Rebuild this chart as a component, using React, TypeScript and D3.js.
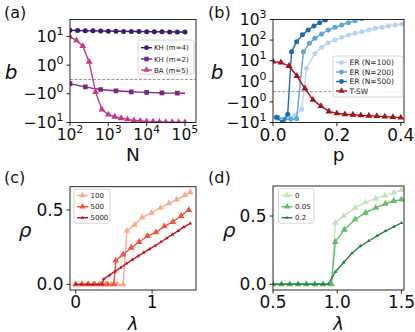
import React from "react";
import * as d3 from "d3";

const FONT = "DejaVu Sans, Verdana, sans-serif";

// ---------------- Panel (a) data ----------------
const aN = [100, 158, 251, 398, 631, 1000, 1585, 2512, 3981, 6310, 10000, 15849, 25119, 39811, 63096, 100000];
const aKH4 = [16.3, 16.1, 15.9, 15.7, 15.5, 15.3, 15.2, 15.0, 14.9, 14.8, 14.7, 14.6, 14.5, 14.4, 14.3, 14.2];
const aKH2 = [-0.29, -0.41, -0.52, -0.62, -0.7, -0.75, -0.79, -0.82, -0.86, -0.88, -0.9, -0.92, -0.94, -0.95, -0.95, -0.96];
const aBAN = [100, 147, 215, 316, 464, 681, 1000, 1468, 2154, 3162, 4642, 6813, 10000, 14678, 21544, 31623, 46416, 68129, 100000];
const aBA = [9.8, 7.3, 4.6, 1.3, -0.87, -3.5, -5.3, -6.3, -7.1, -7.8, -8.5, -8.9, -9.2, -9.4, -9.6, -9.7, -9.8, -9.85, -9.9];
const aXTickExp = [2, 3, 4, 5];
const aYTicks = [10, 1, -1, -10];

// ---------------- Panel (b) data ----------------
const bP100 = [0.012, 0.032, 0.051, 0.069, 0.09, 0.105, 0.131, 0.152, 0.173, 0.194, 0.215, 0.236, 0.257, 0.278, 0.299, 0.32, 0.341, 0.362, 0.383, 0.404];
const bER100 = [-6.5, -7, -5.5, -4.5, -2.3, 4.3, 22, 45, 75, 101, 137, 177, 214, 256, 310, 374, 418, 483, 540, 600];
const bP200 = [0.015, 0.036, 0.056, 0.074, 0.095, 0.114, 0.131, 0.152, 0.173, 0.194, 0.215, 0.236, 0.257, 0.278, 0.299];
const bER200 = [-5.5, -7, -7, -6.5, 27, 70, 122, 198, 310, 418, 540, 700, 875, 1100, 1400];
const bP500 = [0.011, 0.03, 0.046, 0.058, 0.074, 0.092, 0.11, 0.128, 0.146, 0.164, 0.182];
const bER500 = [-5.5, -10, -4, 27, 84, 180, 310, 480, 700, 950, 1300];
const bPTSW = [0, 0.025, 0.05, 0.075, 0.1, 0.125, 0.15, 0.175, 0.2, 0.225, 0.25, 0.275, 0.3, 0.325, 0.35, 0.375, 0.4];
const bTSW = [9, 8.2, 5.5, 1.8, 0.3, -0.8, -1.6, -2.9, -3.6, -4.0, -4.2, -4.5, -4.7, -4.9, -5.2, -5.5, -5.8];
const bXTicks = [0, 0.2, 0.4];
const bYTicks = [1000, 100, 10, 1, -1, -10];

// ---------------- Panel (c) data ----------------
const cL100 = [0, 0.078, 0.155, 0.233, 0.31, 0.388, 0.465, 0.543, 0.62, 0.67, 0.77, 0.87, 0.99, 1.11, 1.22, 1.32, 1.43, 1.5];
const cR100 = [0, 0, 0, 0, 0, 0, 0, 0, 0, 0.36, 0.4, 0.45, 0.48, 0.515, 0.545, 0.57, 0.6, 0.62];
const cL500 = [0, 0.083, 0.167, 0.25, 0.333, 0.417, 0.5, 0.525, 0.62, 0.726, 0.83, 0.94, 1.05, 1.16, 1.27, 1.38, 1.48];
const cR500 = [0, 0, 0, 0, 0, 0, 0, 0.16, 0.2, 0.246, 0.285, 0.325, 0.35, 0.39, 0.42, 0.46, 0.5];
const cL5000 = [0, 0.075, 0.15, 0.225, 0.3, 0.35, 0.365, 0.44, 0.515, 0.59, 0.665, 0.74, 0.815, 0.89, 0.965, 1.04, 1.115, 1.19, 1.265, 1.34, 1.415, 1.5];
const cR5000 = [0, 0, 0, 0, 0, 0, 0.035, 0.06, 0.087, 0.113, 0.14, 0.165, 0.19, 0.213, 0.237, 0.26, 0.285, 0.31, 0.335, 0.36, 0.385, 0.41];
const cXTicks = [0, 1];
const cYTicks = [0, 0.5];

// ---------------- Panel (d) data ----------------
const dL0 = [0.5, 0.565, 0.63, 0.695, 0.76, 0.825, 0.89, 0.955, 0.985, 1.05, 1.14, 1.22, 1.3, 1.37, 1.44, 1.5];
const dR0 = [0, 0, 0, 0, 0, 0, 0, 0, 0.45, 0.5, 0.56, 0.6, 0.627, 0.65, 0.67, 0.69];
const dL005 = [0.5, 0.565, 0.63, 0.695, 0.76, 0.825, 0.89, 0.955, 0.985, 1.055, 1.14, 1.22, 1.3, 1.375, 1.44, 1.5];
const dR005 = [0, 0, 0, 0, 0, 0, 0, 0, 0.31, 0.4, 0.476, 0.524, 0.56, 0.59, 0.61, 0.62];
const dL02 = [0.5, 0.565, 0.63, 0.695, 0.76, 0.825, 0.89, 0.93, 0.985, 1.05, 1.115, 1.18, 1.245, 1.31, 1.375, 1.44, 1.5];
const dR02 = [0, 0, 0, 0, 0, 0, 0, 0, 0.09, 0.16, 0.227, 0.28, 0.317, 0.354, 0.39, 0.42, 0.45];
const dXTicks = [0.5, 1.0, 1.5];
const dYTicks = [0, 0.5];

type Ser = {
  xs: number[];
  ys: number[];
  color: string;
  marker: "circle" | "square" | "triangle";
  size: number;
  every?: number;
  label: string;
};

const LINC = 0.5; // width of the linear part of the symlog axis, in decades
const symT = (v: number) =>
  Math.abs(v) <= 1 ? v * LINC : Math.sign(v) * (LINC + Math.log10(Math.abs(v)));

function symPath(marker: string, size: number) {
  const t = marker === "circle" ? d3.symbolCircle : marker === "square" ? d3.symbolSquare : d3.symbolTriangle;
  return d3.symbol().type(t).size(size)() as string;
}

function SeriesG({ s, fx, fy, clip }: { s: Ser; fx: (v: number) => number; fy: (v: number) => number; clip: string }) {
  const line = d3
    .line<number>()
    .x((_, i) => fx(s.xs[i]))
    .y((d) => fy(d));
  const sym = symPath(s.marker, s.size);
  const ev = s.every ?? 1;
  return (
    <g clipPath={`url(#${clip})`}>
      <path d={line(s.ys) as string} fill="none" stroke={s.color} strokeWidth={1.4} strokeLinejoin="round" />
      {s.ys.map((v, i) =>
        i % ev === 0 ? (
          <path key={i} d={sym} transform={`translate(${fx(s.xs[i])},${fy(v)})`} fill={s.color} />
        ) : null
      )}
    </g>
  );
}

function Legend({
  box,
  items,
  rows,
  sx0,
  sx1,
  tx,
  fs,
}: {
  box: [number, number, number, number];
  items: Ser[];
  rows: number[];
  sx0: number;
  sx1: number;
  tx: number;
  fs: number;
}) {
  return (
    <g>
      <rect x={box[0]} y={box[1]} width={box[2]} height={box[3]} rx={2} fill="white" fillOpacity={0.85} stroke="#cccccc" strokeWidth={0.8} />
      {items.map((s, i) => (
        <g key={i}>
          <line x1={sx0} x2={sx1} y1={rows[i]} y2={rows[i]} stroke={s.color} strokeWidth={1.4} />
          <path d={symPath(s.marker, s.size * 0.9)} transform={`translate(${(sx0 + sx1) / 2},${rows[i]})`} fill={s.color} />
          <text x={tx} y={rows[i] + fs * 0.36} fontSize={fs} fontFamily={FONT} fill="#222">
            {s.label}
          </text>
        </g>
      ))}
    </g>
  );
}

function PowLabel({ x, y, anchor, neg, exp }: { x: number; y: number; anchor: "end" | "middle"; neg: boolean; exp: number }) {
  return (
    <text x={x} y={y} textAnchor={anchor} fontSize={15.5} fontFamily={FONT} fill="#111">
      {neg ? "\u2212" : ""}10
      <tspan dy={-7} fontSize={11}>
        {exp}
      </tspan>
    </text>
  );
}

const TICK = 3.5;

function Frame({ l, r, t, b, clip }: { l: number; r: number; t: number; b: number; clip: string }) {
  return (
    <clipPath id={clip}>
      <rect x={l} y={t} width={r - l} height={b - t} />
    </clipPath>
  );
}

export default function App() {
  // ---- Panel a ----
  const A = { l: 70, r: 196, t: 19.5, b: 122.5 };
  const ax = d3.scaleLog().domain([100, 1.94e5]).range([A.l, A.r]);
  const ayLin = d3.scaleLinear().domain([symT(-10), symT(39)]).range([A.b, A.t]);
  const ay = (v: number) => ayLin(symT(v));
  const aSeries: Ser[] = [
    { xs: aN, ys: aKH4, color: "#3b1c6e", marker: "circle", size: 20, label: "KH (m=4)" },
    { xs: aN, ys: aKH2, color: "#7d2683", marker: "square", size: 22, every: 2, label: "KH (m=2)" },
    { xs: aBAN, ys: aBA, color: "#c53b8a", marker: "triangle", size: 20, label: "BA (m=5)" },
  ];

  // ---- Panel b ----
  const B = { l: 273, r: 404, t: 19.5, b: 122.5 };
  const bx = d3.scaleLinear().domain([0, 0.41]).range([B.l, B.r]);
  const byLin = d3.scaleLinear().domain([symT(-10), symT(1000)]).range([B.b, B.t]);
  const by = (v: number) => byLin(symT(v));
  const bSeries: Ser[] = [
    { xs: bP100, ys: bER100, color: "#b8d5ec", marker: "circle", size: 20, label: "ER (N=100)" },
    { xs: bP200, ys: bER200, color: "#5fa6d4", marker: "circle", size: 20, label: "ER (N=200)" },
    { xs: bP500, ys: bER500, color: "#1f6cb0", marker: "circle", size: 20, label: "ER (N=500)" },
    { xs: bPTSW, ys: bTSW, color: "#a51518", marker: "triangle", size: 20, label: "T-SW" },
  ];

  // ---- Panel c ----
  const Cc = { l: 70, r: 196, t: 186.7, b: 290 };
  const cx = d3.scaleLinear().domain([-0.075, 1.575]).range([Cc.l, Cc.r]);
  const cy = d3.scaleLinear().domain([-0.038, 0.657]).range([Cc.b, Cc.t]);
  const cSeries: Ser[] = [
    { xs: cL100, ys: cR100, color: "#fcab8e", marker: "triangle", size: 20, label: "100" },
    { xs: cL500, ys: cR500, color: "#f2553c", marker: "triangle", size: 20, label: "500" },
    { xs: cL5000, ys: cR5000, color: "#c4161c", marker: "triangle", size: 6, label: "5000" },
  ];

  // ---- Panel d ----
  const D = { l: 273, r: 404, t: 186, b: 290 };
  const dx = d3.scaleLinear().domain([0.5, 1.52]).range([D.l, D.r]);
  const dy = d3.scaleLinear().domain([-0.042, 0.72]).range([D.b, D.t]);
  const dSeries: Ser[] = [
    { xs: dL0, ys: dR0, color: "#bfe5b8", marker: "triangle", size: 20, label: "0" },
    { xs: dL005, ys: dR005, color: "#66bd6d", marker: "triangle", size: 20, label: "0.05" },
    { xs: dL02, ys: dR02, color: "#238443", marker: "triangle", size: 6, label: "0.2" },
  ];

  const frameRect = (P: { l: number; r: number; t: number; b: number }) => (
    <rect x={P.l} y={P.t} width={P.r - P.l} height={P.b - P.t} fill="none" stroke="#111" strokeWidth={0.9} />
  );
  const yTick = (P: { l: number }, y: number, k: string) => (
    <line key={k} x1={P.l - TICK} x2={P.l} y1={y} y2={y} stroke="#111" strokeWidth={0.9} />
  );
  const xTick = (P: { b: number }, x: number, k: string) => (
    <line key={k} x1={x} x2={x} y1={P.b} y2={P.b + TICK} stroke="#111" strokeWidth={0.9} />
  );
  const plainY = (P: { l: number }, y: number, s: string, k: string) => (
    <text key={k} x={P.l - 6.5} y={y + 6} textAnchor="end" fontSize={17} fontFamily={FONT} fill="#111">
      {s}
    </text>
  );
  const plainX = (P: { b: number }, x: number, s: string, k: string) => (
    <text key={k} x={x} y={P.b + 18.3} textAnchor="middle" fontSize={17} fontFamily={FONT} fill="#111">
      {s}
    </text>
  );

  return (
    <svg width={415} height={332} style={{ position: "absolute", left: 0, top: 0, background: "white" }} fontFamily={FONT}>
      <rect x={0} y={0} width={415} height={332} fill="white" />
      <defs>
        <Frame {...A} clip="clipA" />
        <Frame {...B} clip="clipB" />
        <Frame {...Cc} clip="clipC" />
        <Frame {...D} clip="clipD" />
      </defs>

      {/* ---------- Panel a ---------- */}
      <line x1={A.l} x2={A.r} y1={ay(0)} y2={ay(0)} stroke="#8c8c8c" strokeWidth={0.9} strokeDasharray="3,1.6" />
      {aSeries.map((s, i) => (
        <SeriesG key={i} s={s} fx={ax} fy={ay} clip="clipA" />
      ))}
      {frameRect(A)}
      {aYTicks.map((v, i) => (
        <g key={"ay" + i}>
          {yTick(A, ay(v), "t")}
          <PowLabel x={A.l - 6.5} y={ay(v) + 5.6} anchor="end" neg={v < 0} exp={Math.round(Math.log10(Math.abs(v)))} />
        </g>
      ))}
      {aXTickExp.map((e, i) => (
        <g key={"ax" + i}>
          {xTick(A, ax(Math.pow(10, e)), "t")}
          <PowLabel x={ax(Math.pow(10, e))} y={A.b + 17.5} anchor="middle" neg={false} exp={e} />
        </g>
      ))}
      <Legend box={[138, 40, 56, 34]} items={aSeries} rows={[47.7, 59, 70]} sx0={141} sx1={152} tx={154} fs={7} />
      <text x={4} y={17.5} fontSize={16} fontFamily={FONT} fill="#111">(a)</text>
      <text x={11} y={79} textAnchor="middle" fontSize={20} fontStyle="italic" fontFamily={FONT} fill="#111">b</text>
      <text x={(A.l + A.r) / 2} y={160.5} textAnchor="middle" fontSize={18.5} fontFamily={FONT} fill="#111">N</text>

      {/* ---------- Panel b ---------- */}
      <line x1={B.l} x2={B.r} y1={by(0)} y2={by(0)} stroke="#8c8c8c" strokeWidth={0.9} strokeDasharray="3,1.6" />
      {bSeries.map((s, i) => (
        <SeriesG key={i} s={s} fx={bx} fy={by} clip="clipB" />
      ))}
      {frameRect(B)}
      {bYTicks.map((v, i) => (
        <g key={"by" + i}>
          {yTick(B, by(v), "t")}
          <PowLabel x={B.l - 6.5} y={by(v) + 5.6} anchor="end" neg={v < 0} exp={Math.round(Math.log10(Math.abs(v)))} />
        </g>
      ))}
      {bXTicks.map((v, i) => (
        <g key={"bx" + i}>
          {xTick(B, bx(v), "t")}
          {plainX(B, bx(v), v.toFixed(1), "l")}
        </g>
      ))}
      <Legend box={[333, 56, 70, 41]} items={bSeries} rows={[62.5, 72, 81.5, 91]} sx0={336} sx1={347} tx={349.5} fs={7.5} />
      <text x={208} y={17.5} fontSize={16} fontFamily={FONT} fill="#111">(b)</text>
      <text x={217} y={78.5} textAnchor="middle" fontSize={20} fontStyle="italic" fontFamily={FONT} fill="#111">b</text>
      <text x={(B.l + B.r) / 2} y={161} textAnchor="middle" fontSize={18.5} fontFamily={FONT} fill="#111">p</text>

      {/* ---------- Panel c ---------- */}
      {cSeries.map((s, i) => (
        <SeriesG key={i} s={s} fx={cx} fy={cy} clip="clipC" />
      ))}
      {frameRect(Cc)}
      {cYTicks.map((v, i) => (
        <g key={"cy" + i}>
          {yTick(Cc, cy(v), "t")}
          {plainY(Cc, cy(v), v.toFixed(1), "l")}
        </g>
      ))}
      {cXTicks.map((v, i) => (
        <g key={"cx" + i}>
          {xTick(Cc, cx(v), "t")}
          {plainX(Cc, cx(v), String(v), "l")}
        </g>
      ))}
      <Legend box={[74, 189.3, 36, 34]} items={cSeries} rows={[195.5, 206.7, 217.7]} sx0={77} sx1={88} tx={90.5} fs={7} />
      <text x={4} y={182.5} fontSize={16} fontFamily={FONT} fill="#111">(c)</text>
      <text x={25} y={237} textAnchor="middle" fontSize={20} fontStyle="italic" fontFamily={FONT} fill="#111">ρ</text>
      <text x={(Cc.l + Cc.r) / 2} y={329.5} textAnchor="middle" fontSize={18} fontStyle="italic" fontFamily={FONT} fill="#111">λ</text>

      {/* ---------- Panel d ---------- */}
      {dSeries.map((s, i) => (
        <SeriesG key={i} s={s} fx={dx} fy={dy} clip="clipD" />
      ))}
      {frameRect(D)}
      {dYTicks.map((v, i) => (
        <g key={"dy" + i}>
          {yTick(D, dy(v), "t")}
          {plainY(D, dy(v), v.toFixed(1), "l")}
        </g>
      ))}
      {dXTicks.map((v, i) => (
        <g key={"dx" + i}>
          {xTick(D, dx(v), "t")}
          {plainX(D, dx(v), v.toFixed(1), "l")}
        </g>
      ))}
      <Legend box={[278.5, 188.7, 35.5, 34.5]} items={dSeries} rows={[195.5, 206.7, 217.7]} sx0={281.5} sx1={292.5} tx={295} fs={7} />
      <text x={208} y={182.5} fontSize={16} fontFamily={FONT} fill="#111">(d)</text>
      <text x={229} y={237} textAnchor="middle" fontSize={20} fontStyle="italic" fontFamily={FONT} fill="#111">ρ</text>
      <text x={(D.l + D.r) / 2} y={329.5} textAnchor="middle" fontSize={18} fontStyle="italic" fontFamily={FONT} fill="#111">λ</text>
    </svg>
  );
}
